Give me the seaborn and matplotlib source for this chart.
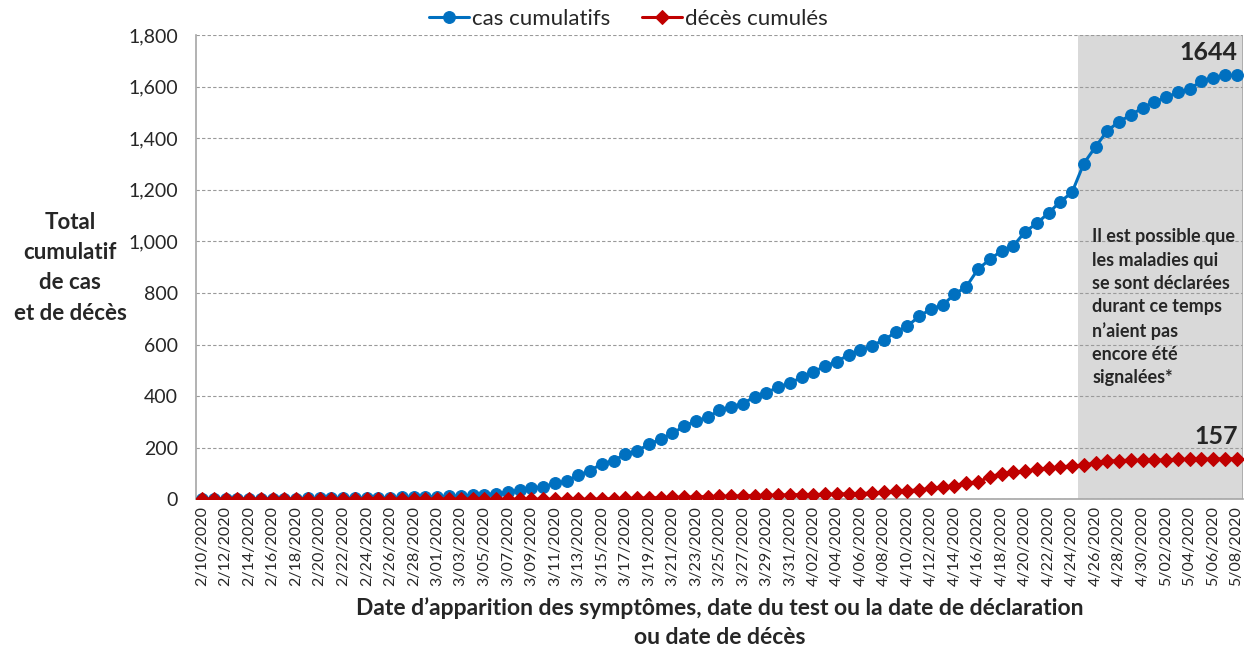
import numpy as np
import pandas as pd
import matplotlib
matplotlib.use("Agg")
import matplotlib.pyplot as plt
import seaborn as sns

# donnees
dates = pd.date_range("2020-02-10", "2020-05-08", freq="D")
date_labels = [d.strftime("%-m/%d/%Y") for d in dates]

cas_cumulatifs = [1, 1, 1, 1, 1, 2, 2, 2, 2, 3,
                  3, 4, 4, 5, 5, 6, 6, 7, 8, 9,
                  10, 11, 13, 15, 18, 22, 27, 35, 44, 48,
                  61, 70, 93, 110, 138, 149, 175, 187, 213, 233,
                  255, 283, 304, 317, 345, 358, 371, 397, 412, 436,
                  449, 474, 494, 516, 534, 560, 578, 596, 618, 647,
                  672, 709, 738, 753, 795, 824, 892, 930, 963, 982,
                  1037, 1070, 1110, 1154, 1190, 1302, 1367, 1429, 1464, 1490,
                  1518, 1541, 1558, 1578, 1590, 1622, 1635, 1644, 1644]

deces_cumules = [0, 0, 0, 0, 0, 0, 0, 0, 0, 0,
                 0, 0, 0, 0, 0, 0, 0, 0, 0, 0,
                 0, 0, 0, 0, 0, 0, 0, 0, 0, 0,
                 0, 0, 0, 0, 1, 2, 3, 4, 5, 6,
                 7, 8, 9, 10, 11, 12, 13, 14, 15, 16,
                 17, 18, 18, 19, 20, 21, 22, 24, 27, 30,
                 33, 36, 42, 47, 52, 64, 66, 87, 98, 104,
                 108, 116, 121, 124, 130, 131, 142, 147, 150, 151,
                 151, 152, 152, 154, 155, 155, 156, 157, 157]

note = ("Il est possible que\nles maladies qui\nse sont déclarées\n"
        "durant ce temps\nn’aient pas\nencore été\nsignalées*")

df = pd.DataFrame({"pos": np.arange(len(dates)),
                   "cas": cas_cumulatifs,
                   "deces": deces_cumules})

sns.set_style("white")
plt.rcParams['font.family'] = ['Lato', 'DejaVu Sans']

fig = plt.figure(figsize=(12.5, 6.5), dpi=100)
ax = fig.add_axes([0.157, 0.232, 0.837, 0.714])

blue = "#0070C0"
red = "#C00000"

# zone grisee (donnees incompletes)
ax.axvspan(74.5, len(dates) - 0.5, color="#D9D9D9", zorder=0, lw=0)
ax.axvline(len(dates) - 0.5, color="#A6A6A6", lw=1.2, zorder=1)

sns.lineplot(data=df, x="pos", y="cas", ax=ax, color=blue, marker="o",
             markersize=8.5, markeredgecolor=blue, linewidth=2.2,
             label="cas cumulatifs", zorder=3)
sns.lineplot(data=df, x="pos", y="deces", ax=ax, color=red, marker="D",
             markersize=7.5, markeredgecolor=red, linewidth=2.2,
             label="décès cumulés", zorder=4)

ax.set_xlim(-0.5, len(dates) - 0.5)
ax.set_ylim(0, 1800)
ax.set_yticks(range(0, 1801, 200))
ax.set_yticklabels([f"{v:,}" for v in range(0, 1801, 200)], fontsize=14)
ax.yaxis.grid(True, color="#9A9A9A", linestyle=(0, (3, 2)), linewidth=0.8)
ax.set_axisbelow(True)

ax.set_xticks(np.arange(0, len(dates), 2))
ax.set_xticklabels(date_labels[::2], rotation=90, fontsize=11.5)
ax.set_xticks(np.arange(1.5, len(dates), 2), minor=True)
ax.tick_params(axis="x", which="major", length=0, pad=5)
ax.tick_params(axis="x", which="minor", length=6, color="#A6A6A6", width=1)
ax.tick_params(axis="y", length=7, color="#A6A6A6", width=1, pad=6)

for s in ["top", "right"]:
    ax.spines[s].set_visible(False)
for s in ["left", "bottom"]:
    ax.spines[s].set_color("#A6A6A6")
    ax.spines[s].set_linewidth(1.2)

ax.set_xlabel("Date d’apparition des symptômes, date du test ou la date de déclaration\nou date de décès",
              fontsize=16.5, fontweight="bold", labelpad=8, linespacing=1.45)
ax.set_ylabel("")
fig.text(0.056, 0.588, "Total\ncumulatif\nde cas\net de décès", ha="center", va="center",
         fontsize=16, fontweight="bold", linespacing=1.55)

ax.text(len(dates) - 0.9, 1644 + 45, f"{cas_cumulatifs[-1]}", ha="right", va="bottom",
        fontsize=18, fontweight="bold")
ax.text(len(dates) - 0.9, deces_cumules[-1] + 40, f"{deces_cumules[-1]}", ha="right", va="bottom",
        fontsize=18, fontweight="bold")
ax.text(75.7, 1050, note, ha="left", va="top", fontsize=13, fontweight="bold",
        linespacing=1.45)

ax.legend(loc="lower center", bbox_to_anchor=(0.413, 0.995), ncol=2, frameon=False,
          fontsize=16, handlelength=1.8, handletextpad=0.15, columnspacing=1.4,
          borderaxespad=0)

fig.savefig("out.png", dpi=100)
